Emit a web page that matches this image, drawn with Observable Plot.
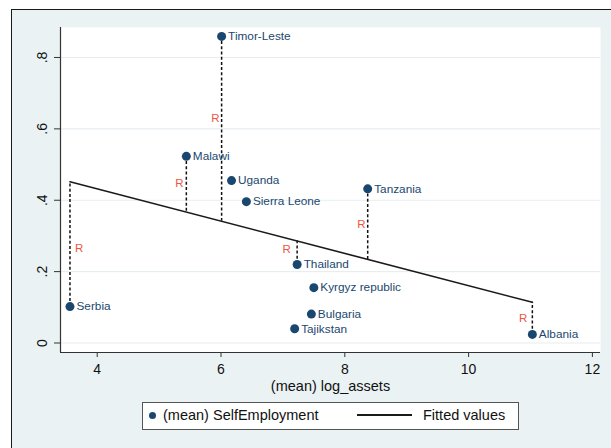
<!DOCTYPE html>
<html><head><meta charset="utf-8">
<script src="https://cdn.jsdelivr.net/npm/d3@7"></script>
<script src="https://cdn.jsdelivr.net/npm/@observablehq/plot@0.6"></script>
<style>
html,body{margin:0;padding:0;background:#fff;}
#wrap{position:relative;width:611px;height:448px;overflow:hidden;font-family:"Liberation Sans",Arial,Helvetica,sans-serif;}
#frame{position:absolute;left:11px;top:9px;width:640px;height:480px;border:1.5px solid #1a1a1a;background:#eaf2f3;}
#chart{position:absolute;left:0;top:0;}
#legend{position:absolute;left:142px;top:402px;width:377px;height:28px;border:1px solid #555;background:#fff;box-sizing:border-box;font-size:14.5px;color:#111;}
#legend .dot{position:absolute;left:6px;top:9px;width:7px;height:7px;border-radius:50%;background:#1a476f;}
#legend .t1{position:absolute;left:20px;top:4px;}
#legend .ln{position:absolute;left:214px;top:11px;width:55px;height:1.5px;background:#1a1a1a;}
#legend .t2{position:absolute;left:280px;top:4px;}
</style></head><body>
<div id="wrap">
  <div id="frame"></div>
  <div id="chart"></div>
  <div id="legend"><span class="dot"></span><span class="t1">(mean) SelfEmployment</span><span class="ln"></span><span class="t2">Fitted values</span></div>
</div>
<script>
// Data
const countries = ["Timor-Leste","Malawi","Uganda","Sierra Leone","Tanzania","Thailand","Kyrgyz republic","Bulgaria","Tajikstan","Albania","Serbia"];
const logAssets = [6.01, 5.44, 6.17, 6.41, 8.37, 7.23, 7.50, 7.46, 7.19, 11.03, 3.56];
const selfEmployment = [0.859, 0.523, 0.455, 0.396, 0.432, 0.220, 0.155, 0.081, 0.040, 0.024, 0.102];
// Residuals annotated with "R"
const residualCountries = ["Timor-Leste","Malawi","Serbia","Thailand","Tanzania","Albania"];
const rLabelX = [5.91, 5.33, 3.71, 7.06, 8.27, 10.88];
const rLabelY = [0.629, 0.447, 0.265, 0.262, 0.332, 0.069];
const xTicks = [4, 6, 8, 10, 12];
const yTicks = [0, 0.2, 0.4, 0.6, 0.8];
const yTickLabels = ["0", ".2", ".4", ".6", ".8"];
const xDomain = [3.407, 12.131];
const yDomain = [-0.0266, 0.884];

const data = countries.map((c, i) => ({country: c, x: logAssets[i], y: selfEmployment[i]}));

// OLS fit (fitted values for residual segments)
const mx = d3.mean(logAssets), my = d3.mean(selfEmployment);
const slope = d3.sum(data, d => (d.x - mx) * (d.y - my)) / d3.sum(data, d => (d.x - mx) ** 2);
const intercept = my - slope * mx;
const resid = data.filter(d => residualCountries.includes(d.country)).map(d => ({...d, fit: intercept + slope * d.x}));
const rLabels = residualCountries.map((c, i) => ({x: rLabelX[i], y: rLabelY[i]}));

const navy = "#1a476f";
const font = '"Liberation Sans", Arial, Helvetica, sans-serif';

const chart = Plot.plot({
  width: 611,
  height: 400,
  marginLeft: 60,
  marginRight: 11,
  marginTop: 27,
  marginBottom: 48,
  style: {fontFamily: font, background: "transparent", overflow: "visible"},
  x: {domain: xDomain},
  y: {domain: yDomain},
  marks: [
    Plot.frame({fill: "white"}),
    Plot.ruleY(yTicks, {stroke: "#e6eef1", strokeWidth: 1.2}),
    Plot.axisY({ticks: yTicks, tickSize: 6, tickFormat: () => "", label: null, stroke: "#333"}),
    Plot.text(yTicks, {x: xDomain[0], y: d => d, text: (d, i) => yTickLabels[i], rotate: -90, dx: -18, fontSize: 14, fill: "#111"}),
    Plot.axisX({ticks: xTicks, tickSize: 5, tickPadding: 6.5, fontSize: 14, label: null, stroke: "#333", fill: "#111"}),
    Plot.ruleX([xDomain[0]], {stroke: "#333", strokeWidth: 1.2}),
    Plot.ruleY([yDomain[0]], {stroke: "#333", strokeWidth: 1.2}),
    Plot.text(["(mean) log_assets"], {frameAnchor: "bottom", lineAnchor: "middle", dy: 34, fontSize: 14.5, fill: "#111"}),
    Plot.ruleX(resid, {x: "x", y1: "y", y2: "fit", stroke: "#111", strokeWidth: 1.5, strokeDasharray: "3,2.2"}),
    Plot.linearRegressionY(data, {x: "x", y: "y", ci: 0, stroke: "#1a1a1a", strokeWidth: 1.6}),
    Plot.text(rLabels, {x: "x", y: "y", text: () => "R", fill: "#f0553f", fontSize: 11.5}),
    Plot.dot(data, {x: "x", y: "y", r: 4.5, fill: navy}),
    Plot.text(data, {x: "x", y: "y", text: "country", textAnchor: "start", dx: 6.5, fontSize: 11.8, fill: navy})
  ]
});
document.getElementById("chart").appendChild(chart);
</script>
</body></html>
